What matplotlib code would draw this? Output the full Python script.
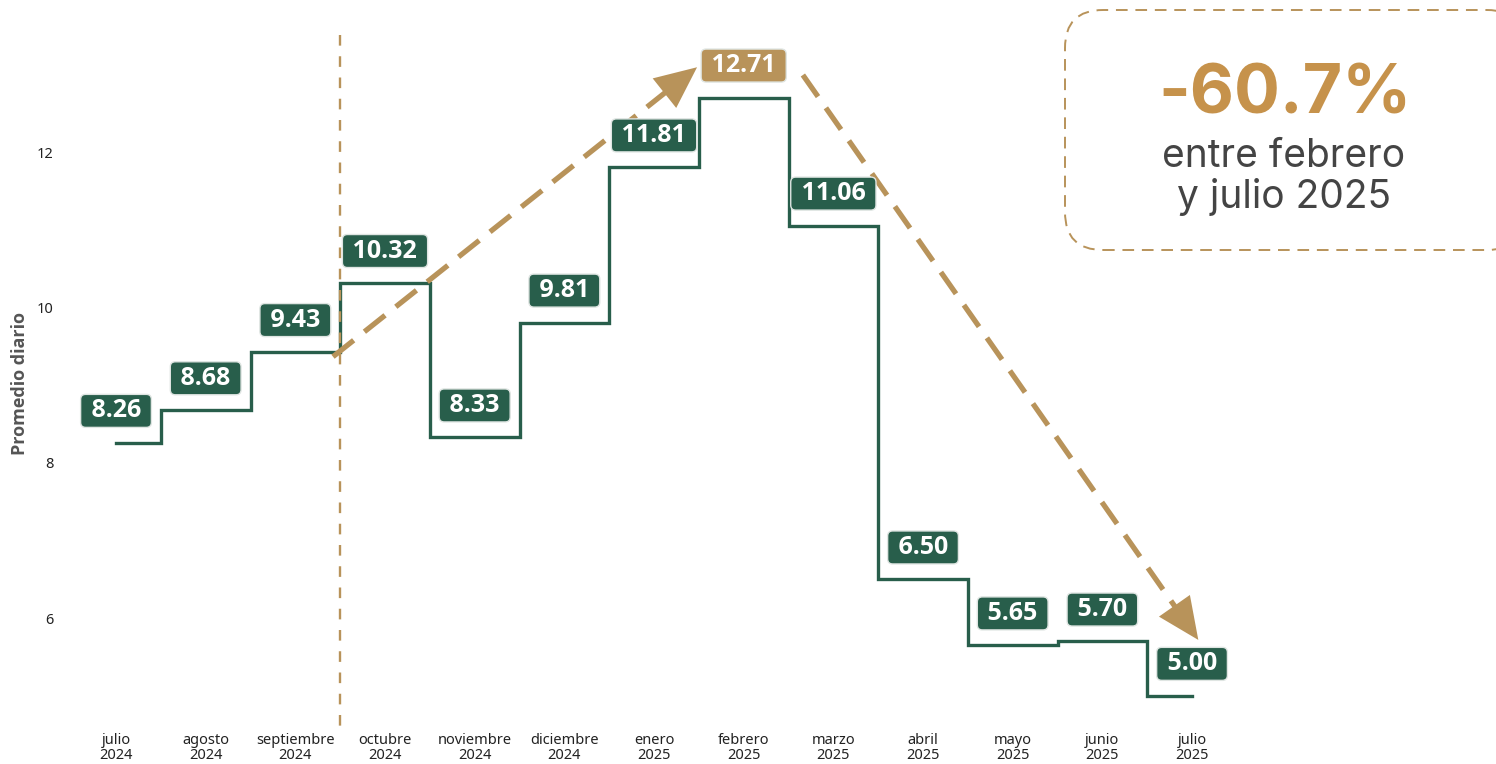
import matplotlib.pyplot as plt
from matplotlib.patches import FancyBboxPatch
import numpy as np

months = ["julio\n2024", "agosto\n2024", "septiembre\n2024", "octubre\n2024",
          "noviembre\n2024", "diciembre\n2024", "enero\n2025", "febrero\n2025",
          "marzo\n2025", "abril\n2025", "mayo\n2025", "junio\n2025", "julio\n2025"]
values = [8.26, 8.68, 9.43, 10.32, 8.33, 9.81, 11.81, 12.71, 11.06, 6.50, 5.65, 5.70, 5.00]
y_ticks = [6, 8, 10, 12]
peak_idx = 7
change_text = "-60.7%"
change_sub = "entre febrero\ny julio 2025"

GREEN = "#285e4b"
BROWN = "#b8935a"
GOLD = "#c6924b"

W, H = 1496, 764
fig = plt.figure(figsize=(W / 100, H / 100), dpi=100)

# pixel mapping of the reference (x index -> px, value -> px from top)
x0_px, dx_px = 116, 89.67
y8_px, dy_px = 463, 77.6
left_px, bottom_px = 62, 720
ax = fig.add_axes([left_px / W, (H - bottom_px) / H, 1 - left_px / W, bottom_px / H])
ax.set_xlim((left_px - x0_px) / dx_px, (W - x0_px) / dx_px)
ax.set_ylim(8 - (bottom_px - y8_px) / dy_px, 8 + y8_px / dy_px)
for s in ax.spines.values():
    s.set_visible(False)

x = np.arange(len(values))
ax.step(x, values, where="mid", color=GREEN, lw=2.4, solid_joinstyle="miter")

for i, v in enumerate(values):
    fc = BROWN if i == peak_idx else GREEN
    ax.annotate(f" {v:.2f} ", (i, v), xytext=(0, 23), textcoords="offset points",
                ha="center", va="center", color="white", fontsize=18,
                fontweight="bold", family="Open Sans",
                bbox=dict(boxstyle="round,pad=0.16,rounding_size=0.2",
                          fc=fc, ec="#dfe5e2", lw=1))

# vertical separator
ax.plot([2.5, 2.5], [8 + (y8_px - 35) / dy_px, 8 - (735 - y8_px) / dy_px],
        color=BROWN, lw=1.7, dashes=(4.5, 4.5), clip_on=False)


def dashed_arrow(start, tip):
    p0 = ax.transData.transform(start)
    p1 = ax.transData.transform(tip)
    d = p1 - p0
    end = p1 - d / np.hypot(*d) * 30
    end = ax.transData.inverted().transform(end)
    ax.plot([start[0], end[0]], [start[1], end[1]], color=BROWN, lw=3.8,
            dashes=(5, 2.6), solid_capstyle="butt")
    ax.annotate("", xy=tip, xytext=start,
                arrowprops=dict(arrowstyle="-|>,head_length=1.5,head_width=0.68",
                                mutation_scale=20, color=BROWN, lw=0,
                                shrinkA=0, shrinkB=0))


dashed_arrow((2.42, 9.37), (6.48, 13.10))
dashed_arrow((7.66, 13.0), (12.07, 5.72))

ax.set_xticks(x)
ax.set_xticklabels(months, fontsize=10.5, family="Noto Sans", linespacing=1.05,
                   color="#222222")
ax.set_yticks(y_ticks)
ax.set_yticklabels([str(t) for t in y_ticks], fontsize=10.5, family="Noto Sans",
                   color="#222222")
ax.tick_params(axis="x", length=0, pad=9)
ax.tick_params(axis="y", length=0, pad=6)

fig.text(20 / W, 1 - 383 / H, "Promedio diario", rotation=90, ha="center",
         va="center", fontsize=13, fontweight="bold", color="#555555",
         family="Open Sans")

# callout box
box = FancyBboxPatch((10.65, (H - 250) / 100), 4.6, 2.40,
                     boxstyle="round,pad=0,rounding_size=0.38",
                     transform=fig.dpi_scale_trans, fc="white", ec=BROWN,
                     lw=1.4, ls=(0, (6, 4)), clip_on=False)
fig.add_artist(box)
fig.text(1285 / W, 1 - 113 / H, change_text, ha="center", va="baseline",
         fontsize=49, fontweight="bold", color=GOLD, family="Inter")
fig.text(1284 / W, 1 - 167 / H, change_sub.split("\n")[0], ha="center",
         va="baseline", fontsize=28, color="#444444", family="Inter")
fig.text(1284 / W, 1 - 208 / H, change_sub.split("\n")[1], ha="center",
         va="baseline", fontsize=28, color="#444444", family="Inter")

fig.savefig("out.png", dpi=100, facecolor="white")
